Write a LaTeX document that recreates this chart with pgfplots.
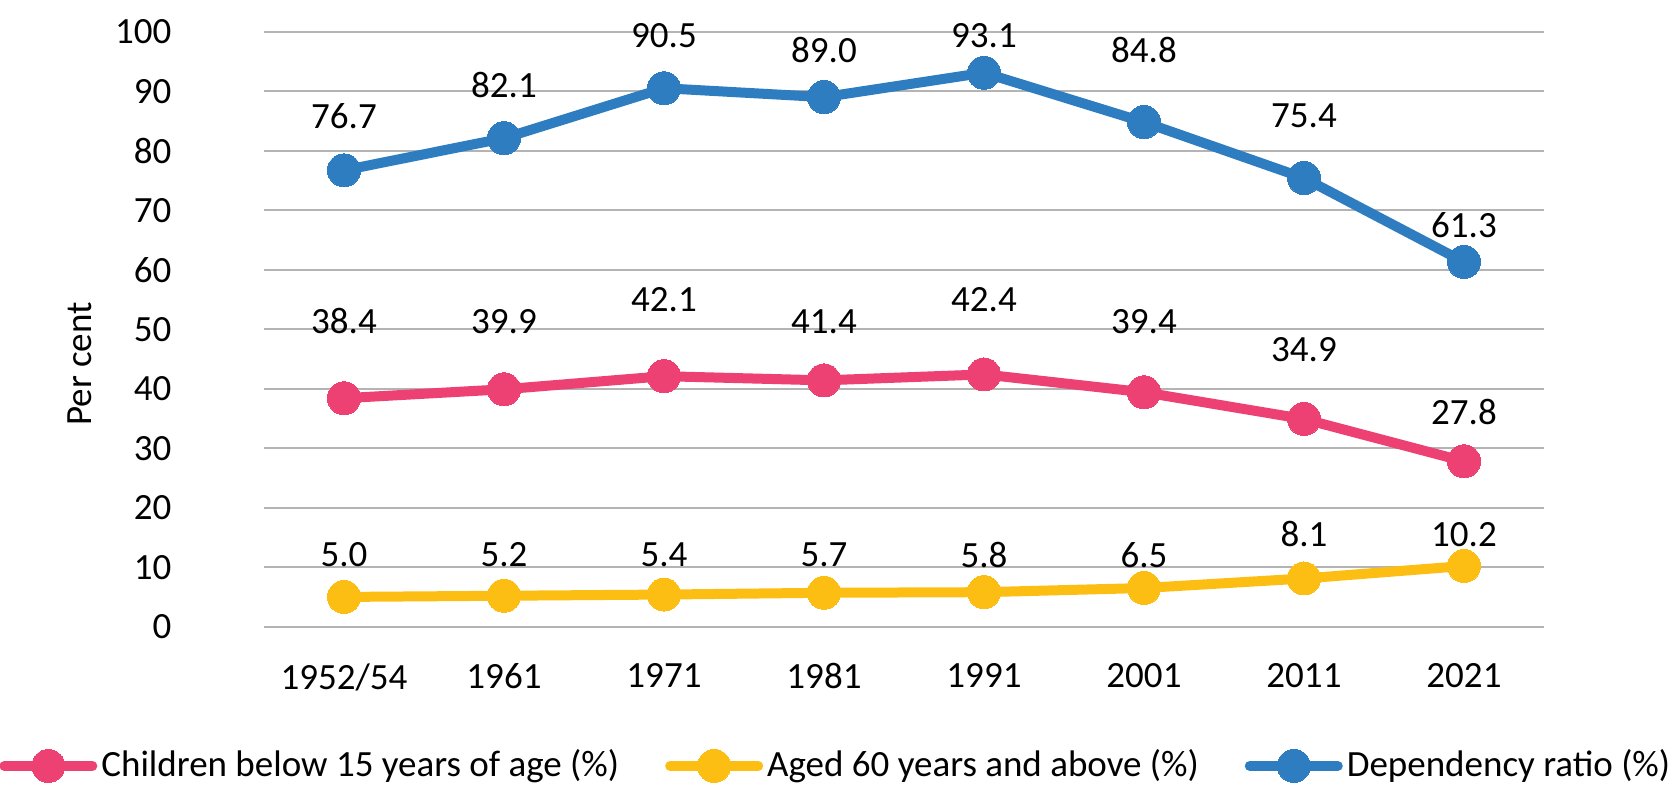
\documentclass[border=0pt]{standalone}
\usepackage{fontspec}
\setmainfont{Carlito}
\usepackage{pgfplots}
\usepackage{pgfplotstable}
\pgfplotsset{compat=1.18}

\definecolor{depblue}{HTML}{2E7DC0}
\definecolor{kidpink}{HTML}{EC4172}
\definecolor{oldgold}{HTML}{FDBE14}
\definecolor{gridgray}{HTML}{B4B4B4}

% x = census index, y = value, ly = height of the data label centre
\pgfplotstableread{
x y ly
0 38.4 51.3
1 39.9 51.3
2 42.1 54.9
3 41.4 51.3
4 42.4 54.9
5 39.4 51.3
6 34.9 46.5
7 27.8 36.1
}\children
\pgfplotstableread{
x y ly
0 5.0 12.1
1 5.2 12.1
2 5.4 12.1
3 5.7 12.1
4 5.8 12.1
5 6.5 12.1
6 8.1 15.5
7 10.2 15.5
}\aged
\pgfplotstableread{
x y ly
0 76.7 85.8
1 82.1 91.0
2 90.5 99.4
3 89.0 96.9
4 93.1 99.4
5 84.8 96.9
6 75.4 85.8
7 61.3 67.5
}\depratio

\begin{document}
\fontsize{18.5}{22}\selectfont
\begin{tikzpicture}
\path[use as bounding box] (-132pt,-81.65pt) rectangle (707pt,313.35pt);
\begin{axis}[
  scale only axis,
  width=640pt, height=297.5pt,
  xmin=-0.5, xmax=7.5, ymin=0, ymax=100,
  xtick={0,...,7},
  xticklabels={1952/54,1961,1971,1981,1991,2001,2011,2021},
  ytick={0,10,...,100},
  ymajorgrids,
  grid style={gridgray, line width=1pt},
  axis line style={draw=none},
  major tick length=0pt,
  yticklabel style={xshift=-40pt},
  xticklabel style={yshift=-12pt},
  /pgf/number format/assume math mode=true,
  ylabel={Per cent},
  ylabel style={at={(axis description cs:-0.14375,0.4415)}, anchor=center},
  clip=false,
  every axis plot/.append style={line width=5pt, mark=*, mark size=8.25pt,
    mark options={line width=0pt}},
  nodes near coords,
  visualization depends on={(\thisrow{ly}-\thisrow{y})*2.975 \as \dy},
  every node near coord/.append style={
    /pgf/number format/fixed, /pgf/number format/fixed zerofill,
    /pgf/number format/precision=1,
    text=black, anchor=center, yshift=\dy pt},
  legend columns=3,
  legend cell align=left,
  legend style={at={(axis description cs:0.4475,-0.234)}, anchor=center,
    draw=none, /tikz/every even column/.append style={column sep=21pt}},
  legend image code/.code={
    \draw[mark repeat=2, mark phase=2, line cap=round, #1]
      plot coordinates {(0pt,0pt) (22pt,0pt) (44pt,0pt)};},
]
\addplot[kidpink] table[x=x, y=y] {\children};
\addplot[oldgold] table[x=x, y=y] {\aged};
\addplot[depblue] table[x=x, y=y] {\depratio};
\legend{Children below 15 years of age (\%), Aged 60 years and above (\%), Dependency ratio (\%)}
\end{axis}
\end{tikzpicture}
\end{document}
